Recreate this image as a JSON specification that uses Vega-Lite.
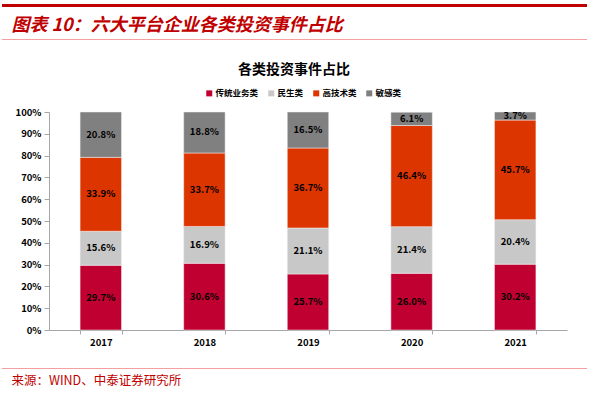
{
  "$schema": "https://vega.github.io/schema/vega-lite/v6.json",
  "padding": {"left": 0, "right": 4, "top": 4, "bottom": 0},
  "spacing": 0,
  "resolve": {"legend": {"color": "independent"}, "scale": {"color": "independent", "x": "independent", "y": "independent"}},
  "config": {"view": {"stroke": null}, "font": "Noto Sans CJK SC", "concat": {"spacing": 0}},
  "datasets": {
    "d": [
      {"year": "2017", "cat": "传统业务类", "k": 1, "v": 0.297},
      {"year": "2017", "cat": "民生类", "k": 2, "v": 0.156},
      {"year": "2017", "cat": "高技术类", "k": 3, "v": 0.339},
      {"year": "2017", "cat": "敏感类", "k": 4, "v": 0.208},
      {"year": "2018", "cat": "传统业务类", "k": 1, "v": 0.306},
      {"year": "2018", "cat": "民生类", "k": 2, "v": 0.169},
      {"year": "2018", "cat": "高技术类", "k": 3, "v": 0.337},
      {"year": "2018", "cat": "敏感类", "k": 4, "v": 0.188},
      {"year": "2019", "cat": "传统业务类", "k": 1, "v": 0.257},
      {"year": "2019", "cat": "民生类", "k": 2, "v": 0.211},
      {"year": "2019", "cat": "高技术类", "k": 3, "v": 0.367},
      {"year": "2019", "cat": "敏感类", "k": 4, "v": 0.165},
      {"year": "2020", "cat": "传统业务类", "k": 1, "v": 0.260},
      {"year": "2020", "cat": "民生类", "k": 2, "v": 0.214},
      {"year": "2020", "cat": "高技术类", "k": 3, "v": 0.464},
      {"year": "2020", "cat": "敏感类", "k": 4, "v": 0.061},
      {"year": "2021", "cat": "传统业务类", "k": 1, "v": 0.302},
      {"year": "2021", "cat": "民生类", "k": 2, "v": 0.204},
      {"year": "2021", "cat": "高技术类", "k": 3, "v": 0.457},
      {"year": "2021", "cat": "敏感类", "k": 4, "v": 0.037}
    ],
    "band": [{"a": 0, "b": 1, "m": 0.5}]
  },
  "vconcat": [
    {
      "width": 585, "height": 3,
      "data": {"name": "band"},
      "mark": {"type": "rule", "stroke": "#C00000", "strokeWidth": 3, "opacity": 1},
      "encoding": {
        "x": {"field": "a", "type": "quantitative", "scale": {"domain": [0, 1], "nice": false, "zero": false}, "axis": null},
        "x2": {"field": "b"},
        "y": {"field": "m", "type": "quantitative", "scale": {"domain": [0, 1], "nice": false, "zero": false}, "axis": null}
      }
    },
    {
      "width": 585, "height": 9,
      "data": {"values": []},
      "mark": {"type": "text"},
      "encoding": {"text": {"value": ""}}
    },
    {
      "width": 585, "height": 1,
      "title": {"text": "图表 10：六大平台企业各类投资事件占比", "anchor": "start", "dx": 10, "fontSize": 18, "fontStyle": "italic", "fontWeight": "bold", "color": "#C00000", "offset": 4},
      "data": {"name": "band"},
      "mark": {"type": "rule", "stroke": "#F4A0A0", "strokeWidth": 1.2, "opacity": 1},
      "encoding": {
        "x": {"field": "a", "type": "quantitative", "scale": {"domain": [0, 1], "nice": false, "zero": false}, "axis": null},
        "x2": {"field": "b"},
        "y": {"field": "m", "type": "quantitative", "scale": {"domain": [0, 1], "nice": false, "zero": false}, "axis": null}
      }
    },
    {
      "width": 585, "height": 22,
      "data": {"values": []},
      "mark": {"type": "text"},
      "encoding": {"text": {"value": ""}}
    },
    {
      "resolve": {"legend": {"color": "independent"}, "scale": {"color": "independent"}},
      "spacing": 0,
      "hconcat": [
        {
          "width": 1, "height": 218,
          "data": {"values": []},
          "mark": {"type": "text"},
          "encoding": {"text": {"value": ""}}
        },
        {
          "width": 518, "height": 218,
          "title": {"text": "各类投资事件占比", "fontSize": 14, "fontWeight": "bold", "color": "#000000", "anchor": "middle", "frame": "group", "dx": -14, "offset": 12},
          "data": {"name": "d"},
          "encoding": {
            "x": {
              "field": "year", "type": "nominal",
              "scale": {"paddingInner": 0.6, "paddingOuter": 0.3},
              "axis": {"title": null, "labelAngle": 0, "domainColor": "#A6A6A6", "tickColor": "#A6A6A6", "tickSize": 4, "tickBand": "extent", "labelFontSize": 9.5, "labelFontWeight": "bold", "labelColor": "#000000", "labelPadding": 3}
            },
            "y": {
              "field": "v", "type": "quantitative", "stack": "zero",
              "scale": {"domain": [0, 1]},
              "axis": {"values": [0, 0.1, 0.2, 0.3, 0.4, 0.5, 0.6, 0.7, 0.8, 0.9, 1], "format": ".0%", "grid": false, "domainColor": "#A6A6A6", "tickColor": "#A6A6A6", "tickSize": 5, "labelPadding": 3, "labelFontSize": 9.5, "labelFontWeight": "bold", "labelColor": "#000000", "title": ".", "titleColor": "#ffffff", "titleFontSize": 2, "titlePadding": 0, "minExtent": 44}
            }
          },
          "layer": [
            {
              "mark": {"type": "bar", "stroke": "#F2F2F2", "strokeWidth": 0.5},
              "encoding": {
                "color": {
                  "field": "cat", "type": "nominal",
                  "scale": {"domain": ["传统业务类", "民生类", "高技术类", "敏感类"], "range": ["#C00030", "#C8C8C8", "#DD3500", "#808080"]},
                  "legend": {"orient": "none", "legendX": 156, "legendY": -23, "direction": "horizontal", "title": null, "symbolType": "square", "symbolSize": 36, "symbolStrokeWidth": 0, "labelFontSize": 8.5, "labelFontWeight": "bold", "labelColor": "#000000", "columnPadding": 8, "labelOffset": 2}
                },
                "order": {"field": "k", "type": "quantitative"}
              }
            },
            {
              "mark": {"type": "text", "fontSize": 9.5, "fontWeight": "bold", "color": "#000000"},
              "encoding": {
                "y": {"field": "v", "type": "quantitative", "stack": "zero", "bandPosition": 0.5},
                "detail": {"field": "cat", "type": "nominal"},
                "order": {"field": "k", "type": "quantitative"},
                "text": {"field": "v", "type": "quantitative", "format": ".1%"}
              }
            }
          ]
        }
      ]
    },
    {
      "width": 585, "height": 20,
      "data": {"values": []},
      "mark": {"type": "text"},
      "encoding": {"text": {"value": ""}}
    },
    {
      "width": 585, "height": 1,
      "title": {"text": "来源：WIND、中泰证券研究所", "orient": "bottom", "anchor": "start", "dx": 10, "fontSize": 12.5, "fontWeight": "normal", "color": "#C00000", "offset": 6},
      "data": {"name": "band"},
      "mark": {"type": "rule", "stroke": "#F4A0A0", "strokeWidth": 1.2, "opacity": 1},
      "encoding": {
        "x": {"field": "a", "type": "quantitative", "scale": {"domain": [0, 1], "nice": false, "zero": false}, "axis": null},
        "x2": {"field": "b"},
        "y": {"field": "m", "type": "quantitative", "scale": {"domain": [0, 1], "nice": false, "zero": false}, "axis": null}
      }
    }
  ]
}
